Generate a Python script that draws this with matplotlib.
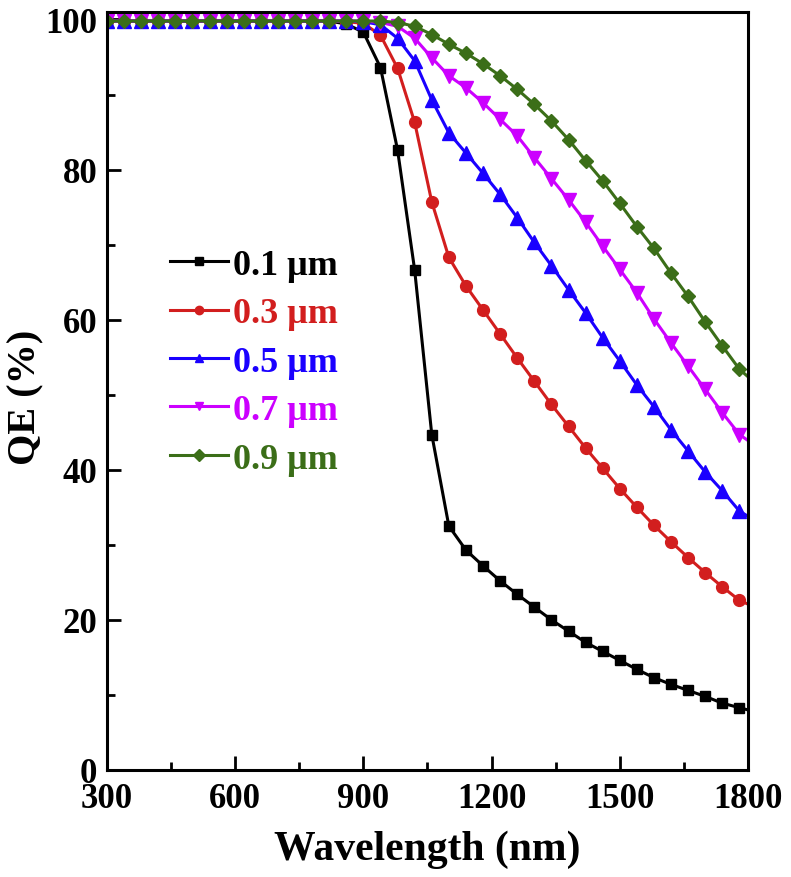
import numpy as np
import matplotlib
matplotlib.use("Agg")
import matplotlib.pyplot as plt
from matplotlib.ticker import MultipleLocator

plt.rcParams['font.family'] = ['Liberation Serif', 'DejaVu Serif']
plt.rcParams['font.weight'] = 'bold'

# wavelengths (nm): markers every 40 nm, plus the end point at 1800
wavelength = list(range(300, 1781, 40)) + [1800]

flat = [99.8] * 14  # 300 .. 820 nm

qe_01 = flat + [99.4, 98.3, 93.6, 82.6, 66.6, 44.7, 32.5, 29.3, 27.2, 25.2, 23.4,
                21.7, 20.0, 18.5, 17.0, 15.8, 14.6, 13.4, 12.3, 11.4, 10.6, 9.8,
                8.9, 8.3, 8.0]
qe_03 = flat + [99.7, 99.5, 97.9, 93.5, 86.3, 75.7, 68.3, 64.5, 61.3, 58.1, 54.9,
                51.8, 48.7, 45.8, 42.9, 40.2, 37.5, 35.0, 32.6, 30.4, 28.3, 26.3,
                24.4, 22.6, 22.1]
qe_05 = flat + [99.8, 99.7, 99.3, 97.5, 94.5, 89.3, 84.9, 82.2, 79.5, 76.7, 73.6,
                70.3, 67.2, 64.0, 60.9, 57.6, 54.5, 51.3, 48.4, 45.3, 42.5, 39.7,
                37.2, 34.5, 33.8]
qe_07 = flat + [99.8, 99.8, 99.6, 99.1, 97.5, 94.9, 92.5, 90.9, 88.9, 86.7, 84.5,
                81.6, 78.8, 76.0, 73.0, 69.8, 66.7, 63.6, 60.1, 56.9, 53.8, 50.7,
                47.6, 44.7, 43.9]
qe_09 = flat + [99.8, 99.8, 99.8, 99.6, 99.1, 98.0, 96.7, 95.5, 94.1, 92.5, 90.7,
                88.7, 86.5, 84.0, 81.2, 78.5, 75.5, 72.4, 69.5, 66.2, 63.1, 59.7,
                56.5, 53.4, 52.4]

labels = ['0.1 \u03bcm', '0.3 \u03bcm', '0.5 \u03bcm', '0.7 \u03bcm', '0.9 \u03bcm']
colors = ['black', '#d21e1e', '#1a00ff', '#cc00ff', '#3b6e18']
markers = ['s', 'o', '^', 'v', 'D']
msizes = [7.5, 8.5, 9.5, 9.5, 7.5]

fig = plt.figure(figsize=(7.91, 8.78), dpi=100)
ax = fig.add_axes([0.1353, 0.1219, 0.8103, 0.8633])

series = [qe_01, qe_03, qe_05, qe_07, qe_09]
for qe, lab, col, mk, ms in zip(series, labels, colors, markers, msizes):
    ax.plot(wavelength, qe, color=col, lw=2.2, marker=mk, ms=ms,
            markevery=slice(0, len(wavelength) - 1), label=lab)

ax.set_xlim(300, 1800)
ax.set_ylim(0, 101)
ax.xaxis.set_major_locator(MultipleLocator(300))
ax.xaxis.set_minor_locator(MultipleLocator(150))
ax.yaxis.set_major_locator(MultipleLocator(20))
ax.yaxis.set_minor_locator(MultipleLocator(10))
ax.tick_params(which='both', direction='in', top=False, right=False,
               width=2.0, labelsize=25)
ax.tick_params(axis='x', pad=9)
ax.tick_params(axis='y', pad=7)
ax.tick_params(which='major', length=10)
ax.tick_params(which='minor', length=6)
for lbl in ax.get_xticklabels() + ax.get_yticklabels():
    lbl.set_fontweight('bold')
for sp in ax.spines.values():
    sp.set_linewidth(2.2)

ax.set_xlabel('Wavelength (nm)', fontsize=30, fontweight='bold')
ax.set_ylabel('QE (%)', fontsize=29, fontweight='bold')
ax.xaxis.set_label_coords(0.5, -0.078)
ax.yaxis.set_label_coords(-0.098, 0.493)

leg = ax.legend(loc='upper left', bbox_to_anchor=(0.098, 0.688), frameon=False,
                fontsize=26, handlelength=1.6, handletextpad=0.15,
                labelspacing=0.42, borderaxespad=0, borderpad=0)
for txt, col in zip(leg.get_texts(), colors):
    txt.set_color(col)
    txt.set_fontweight('bold')
for h in leg.legend_handles:
    h.set_markersize(6)

fig.savefig('out.png', dpi=100)
